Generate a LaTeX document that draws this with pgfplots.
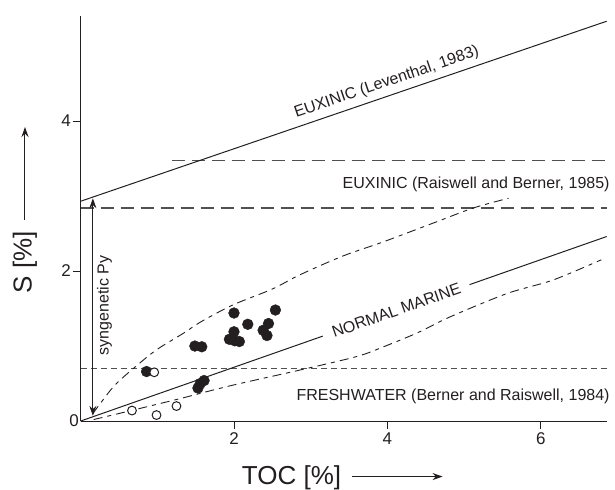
\documentclass[border=0pt]{standalone}
\usepackage{pgfplots}
\pgfplotsset{compat=1.18}
\usetikzlibrary{arrows.meta}
\usepackage{fontspec}
\setmainfont{Liberation Sans}
\definecolor{ink}{HTML}{231F20}
\definecolor{dashgray}{HTML}{505050}
\newcommand\annfont{\fontsize{16}{16}\selectfont}

\begin{document}
\begin{tikzpicture}
\begin{axis}[
  scale only axis, width=526pt, height=405pt,
  xmin=0, xmax=6.86, ymin=0, ymax=5.4,
  axis x line*=bottom, axis y line*=left,
  axis line style={ink, line width=1pt},
  xtick={2,4,6}, ytick={2,4},
  extra y ticks={0}, extra y tick style={major tick length=0pt},
  tick align=outside, major tick length=8pt,
  tick style={ink, line width=0.9pt},
  ticklabel style={font=\fontsize{17}{17}\selectfont, text=ink},
  yticklabel style={inner sep=1.5pt},
  /pgf/number format/assume math mode=true,
  clip=false,
]
% reference levels
\addplot[dashgray, line width=1.1pt, dash pattern=on 13pt off 7pt] coordinates {(1.19,3.47) (6.86,3.47)};
\addplot[dashgray, line width=1.1pt, dash pattern=on 13pt off 7pt] coordinates {(0,2.84) (6.86,2.84)};
\addplot[dashgray, line width=1.1pt, dash pattern=on 6pt off 4pt] coordinates {(0,0.70) (6.86,0.70)};

% euxinic, Leventhal
\addplot[ink, line width=1pt] coordinates {(0,2.93) (6.86,5.33)}
  node[pos=0.59, sloped, above=2pt, text=ink, font=\annfont] {EUXINIC (Leventhal, 1983)};

% normal marine
\addplot[ink, line width=1pt] coordinates {(0,0) (6.86,2.46)}
  node[pos=0.6, sloped, fill=white, inner xsep=10pt, inner ysep=1pt, text=ink, font=\annfont] {NORMAL MARINE};

% envelope of normal marine
\addplot[ink, line width=0.9pt, smooth, dash pattern=on 9pt off 5pt on 4pt off 5pt] coordinates {
  (0.16,0.10) (0.43,0.46) (0.71,0.72) (0.99,0.95) (1.34,1.17) (1.58,1.33)
  (1.99,1.55) (2.5,1.76) (2.86,1.95) (3.42,2.2) (3.95,2.39) (4.6,2.64)
  (5.12,2.84) (5.58,2.97)};
\addplot[ink, line width=0.9pt, smooth, dash pattern=on 9pt off 5pt on 4pt off 5pt] coordinates {
  (0.17,0.02) (0.7,0.15) (1.3,0.30) (1.95,0.47) (2.86,0.68) (3.6,0.86)
  (3.95,0.99) (4.4,1.18) (4.82,1.39) (5.56,1.70) (6.16,1.88) (6.79,2.15)};

% syngenetic pyrite
\addplot[ink, line width=0.9pt, {Stealth[length=10pt,width=7pt]}-{Stealth[length=10pt,width=7pt]}]
  coordinates {(0.16,0.07) (0.16,2.97)};
\node[rotate=90, text=ink, font=\annfont] at (axis cs:0.31,1.54) {syngenetic Py};

\node[anchor=east, text=ink, font=\annfont, inner sep=0pt] at (axis cs:6.9,3.15) {EUXINIC (Raiswell and Berner, 1985)};
\node[anchor=east, text=ink, font=\annfont, inner sep=0pt] at (axis cs:6.9,0.335) {FRESHWATER (Berner and Raiswell, 1984)};

% samples
\addplot[only marks, mark=*, mark size=5.4pt, mark options={draw=ink, fill=ink}] coordinates {
  (2.00,1.44) (2.54,1.48) (2.18,1.29) (2.45,1.30) (2.38,1.21) (2.43,1.14)
  (2.00,1.19) (1.94,1.09) (2.07,1.06) (2.01,1.07) (1.49,1.00) (1.58,0.99)
  (0.86,0.66) (1.56,0.50) (1.61,0.54) (1.53,0.44)};
\addplot[only marks, mark=*, mark size=4.4pt, mark options={draw=ink, fill=white, line width=1pt}] coordinates {
  (0.96,0.65) (0.67,0.14) (0.99,0.08) (1.25,0.20)};

% axis titles
\node[rotate=90, text=ink, font=\fontsize{26}{26}\selectfont] at (axis cs:-0.725,2.12) {S [\%]};
\draw[ink, line width=1pt, -{Stealth[length=10pt,width=7pt]}] (axis cs:-0.725,2.68) -- (axis cs:-0.725,3.92);
\node[text=ink, font=\fontsize{26}{26}\selectfont] at (axis cs:2.75,-0.75) {TOC [\%]};
\draw[ink, line width=1pt, -{Stealth[length=10pt,width=7pt]}] (axis cs:3.54,-0.74) -- (axis cs:4.72,-0.74);

\coordinate (bl) at (axis cs:-1.051,-0.907);
\coordinate (tr) at (axis cs:6.968,5.613);
\end{axis}
\pgfresetboundingbox
\path (bl) rectangle (tr);
\end{tikzpicture}
\end{document}
